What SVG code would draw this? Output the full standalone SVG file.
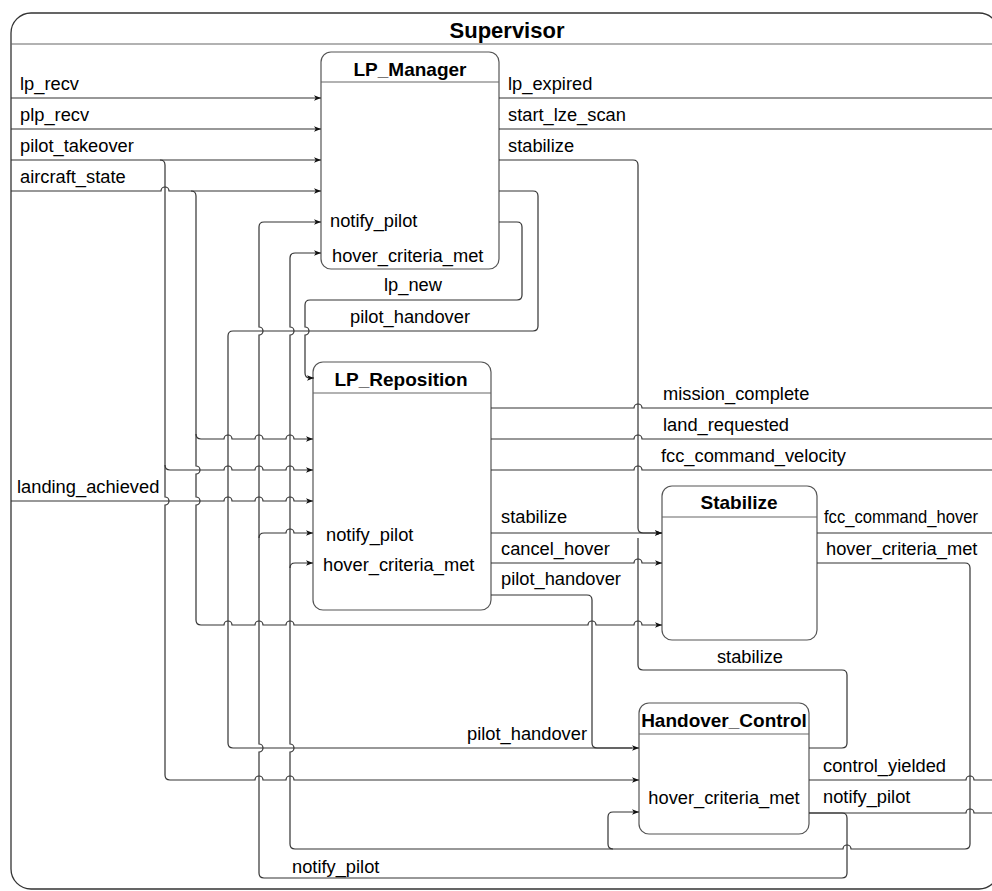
<svg xmlns="http://www.w3.org/2000/svg" width="992" height="891" viewBox="0 0 992 891">
<style>
text{font-family:"Liberation Sans",Arial,sans-serif;fill:#000}
.lbl{font-size:18.3px}
.ttl{font-size:19px;font-weight:bold}
.node{fill:#fff;stroke:#555;stroke-width:1.2}
.hdr{stroke:#666;stroke-width:1.2}
.e{fill:none;stroke:#333;stroke-width:1.2}
.a{marker-end:url(#arr)}
</style>
<defs>
<marker id="arr" viewBox="0 0 10 10" refX="10" refY="5" markerWidth="7" markerHeight="7" markerUnits="userSpaceOnUse" orient="auto">
<path d="M0,1 L10,5 L0,9 L2.5,5 Z" fill="#111"/>
</marker>
</defs>
<rect width="992" height="891" fill="#fff"/>
<g id="Supervisor">
<rect x="11" y="13" width="988" height="876" rx="20" ry="20" fill="#fff" stroke="#333" stroke-width="1.3"/>
<line x1="11" y1="44" x2="999" y2="44" class="hdr"/>
<text x="507" y="38" text-anchor="middle" style="font-size:22px;font-weight:bold">Supervisor</text>
</g>
<g id="LP_Manager">
<rect x="321" y="52" width="178" height="217" rx="10" class="node"/>
<line x1="321" y1="82" x2="499" y2="82" class="hdr"/>
<text x="410" y="76" text-anchor="middle" class="ttl">LP_Manager</text>
<text x="330" y="227" class="lbl">notify_pilot</text>
<text x="332" y="262" class="lbl">hover_criteria_met</text>
</g>
<g id="LP_Reposition">
<rect x="313" y="362" width="178" height="248" rx="10" class="node"/>
<line x1="313" y1="393" x2="491" y2="393" class="hdr"/>
<text x="401" y="386" text-anchor="middle" class="ttl">LP_Reposition</text>
<text x="326" y="541" class="lbl">notify_pilot</text>
<text x="323" y="571" class="lbl">hover_criteria_met</text>
</g>
<g id="Stabilize">
<rect x="662" y="486" width="155" height="154" rx="10" class="node"/>
<line x1="662" y1="517" x2="817" y2="517" class="hdr"/>
<text x="739" y="509" text-anchor="middle" class="ttl">Stabilize</text>
</g>
<g id="Handover_Control">
<rect x="639" y="703" width="170" height="131" rx="10" class="node"/>
<line x1="639" y1="734" x2="809" y2="734" class="hdr"/>
<text x="724" y="727" text-anchor="middle" class="ttl">Handover_Control</text>
<text x="724" y="804" text-anchor="middle" class="lbl">hover_criteria_met</text>
</g>
<g id="connectors">
<path class="e a" d="M11,98 H321"/>
<path class="e a" d="M11,129 H321"/>
<path class="e a" d="M11,160 H321"/>
<path class="e a" d="M160,160 Q165,160 165,165 V497 A4,4 0 0 1 165,505 V775 Q165,780 170,780 H255 A4,4 0 0 1 263,780 H286 A4,4 0 0 1 294,780 H639"/>
<path class="e a" d="M165,465 Q165,470 170,470 H224 A4,4 0 0 1 232,470 H255 A4,4 0 0 1 263,470 H286 A4,4 0 0 1 294,470 H313"/>
<path class="e a" d="M11,191 H161 A4,4 0 0 1 169,191 H321"/>
<path class="e a" d="M191,191 Q196,191 196,196 V466 A4,4 0 0 1 196,474 V497 A4,4 0 0 1 196,505 V620 Q196,625 201,625 H224 A4,4 0 0 1 232,625 H255 A4,4 0 0 1 263,625 H286 A4,4 0 0 1 294,625 H588 A4,4 0 0 1 596,625 H634 A4,4 0 0 1 642,625 H662"/>
<path class="e a" d="M196,434 Q196,439 201,439 H224 A4,4 0 0 1 232,439 H255 A4,4 0 0 1 263,439 H286 A4,4 0 0 1 294,439 H313"/>
<path class="e a" d="M11,501 H224 A4,4 0 0 1 232,501 H255 A4,4 0 0 1 263,501 H286 A4,4 0 0 1 294,501 H313"/>
<path class="e" d="M499,98 H1000"/>
<path class="e" d="M499,129 H1000"/>
<path class="e a" d="M499,160 H633 Q638,160 638,165 V528 Q638,533 643,533 H662"/>
<path class="e a" d="M499,191 H533 Q538,191 538,196 V326 Q538,331 533,331 H233 Q228,331 228,336 V743 Q228,748 233,748 H639"/>
<path class="e a" d="M499,222 H517 Q522,222 522,227 V295 Q522,300 517,300 H310 Q305,300 305,305 V327 A4,4 0 0 1 305,335 V373 Q305,378 310,378 H314"/>
<path class="e a" d="M809,813 H842 Q847,813 847,818 V873 Q847,878 842,878 H264 Q259,878 259,873 V752 A4,4 0 0 0 259,744 V335 A4,4 0 0 0 259,327 V227 Q259,222 264,222 H321"/>
<path class="e a" d="M259,538 Q259,533 264,533 H286 A4,4 0 0 1 294,533 H313"/>
<path class="e" d="M809,813 H966 A4,4 0 0 1 974,813 H1000"/>
<path class="e a" d="M817,563 H965 Q970,563 970,568 V844 Q970,849 965,849 H851 A4,4 0 0 0 843,849 H295 Q290,849 290,844 V752 A4,4 0 0 0 290,744 V335 A4,4 0 0 0 290,327 V258 Q290,253 295,253 H321"/>
<path class="e a" d="M290,568 Q290,563 295,563 H313"/>
<path class="e a" d="M613,849 Q608,849 608,844 V817 Q608,812 613,812 H639"/>
<path class="e" d="M491,408 H634 A4,4 0 0 1 642,408 H1000"/>
<path class="e" d="M491,439 H634 A4,4 0 0 1 642,439 H1000"/>
<path class="e" d="M491,470 H634 A4,4 0 0 1 642,470 H1000"/>
<path class="e a" d="M491,533 H662"/>
<path class="e a" d="M491,563 H634 A4,4 0 0 1 642,563 H662"/>
<path class="e" d="M491,595 H587 Q592,595 592,600 V743 Q592,748 597,748 H632"/>
<path class="e" d="M817,533 H1000"/>
<path class="e" d="M809,748 H842 Q847,748 847,743 V675 Q847,670 842,670 H643 Q638,670 638,665 V538"/>
<path class="e" d="M809,780 H966 A4,4 0 0 1 974,780 H1000"/>
</g>
<g id="labels">
<text x="20" y="90" class="lbl">lp_recv</text>
<text x="20" y="121" class="lbl">plp_recv</text>
<text x="20" y="152" class="lbl">pilot_takeover</text>
<text x="20" y="183" class="lbl">aircraft_state</text>
<text x="17" y="493" class="lbl">landing_achieved</text>
<text x="508" y="90" class="lbl">lp_expired</text>
<text x="508" y="121" class="lbl">start_lze_scan</text>
<text x="508" y="152" class="lbl">stabilize</text>
<text x="413" y="291" text-anchor="middle" class="lbl">lp_new</text>
<text x="410" y="323" text-anchor="middle" class="lbl">pilot_handover</text>
<text x="663" y="400" class="lbl">mission_complete</text>
<text x="663" y="431" class="lbl">land_requested</text>
<text x="661" y="462" class="lbl">fcc_command_velocity</text>
<text x="501" y="523" class="lbl">stabilize</text>
<text x="501" y="555" class="lbl">cancel_hover</text>
<text x="501" y="585" class="lbl">pilot_handover</text>
<text x="824" y="523" class="lbl" textLength="154" lengthAdjust="spacingAndGlyphs">fcc_command_hover</text>
<text x="826" y="555" class="lbl">hover_criteria_met</text>
<text x="750" y="663" text-anchor="middle" class="lbl">stabilize</text>
<text x="587" y="740" text-anchor="end" class="lbl">pilot_handover</text>
<text x="823" y="772" class="lbl">control_yielded</text>
<text x="823" y="803" class="lbl">notify_pilot</text>
<text x="292" y="873" class="lbl">notify_pilot</text>
</g>
</svg>
